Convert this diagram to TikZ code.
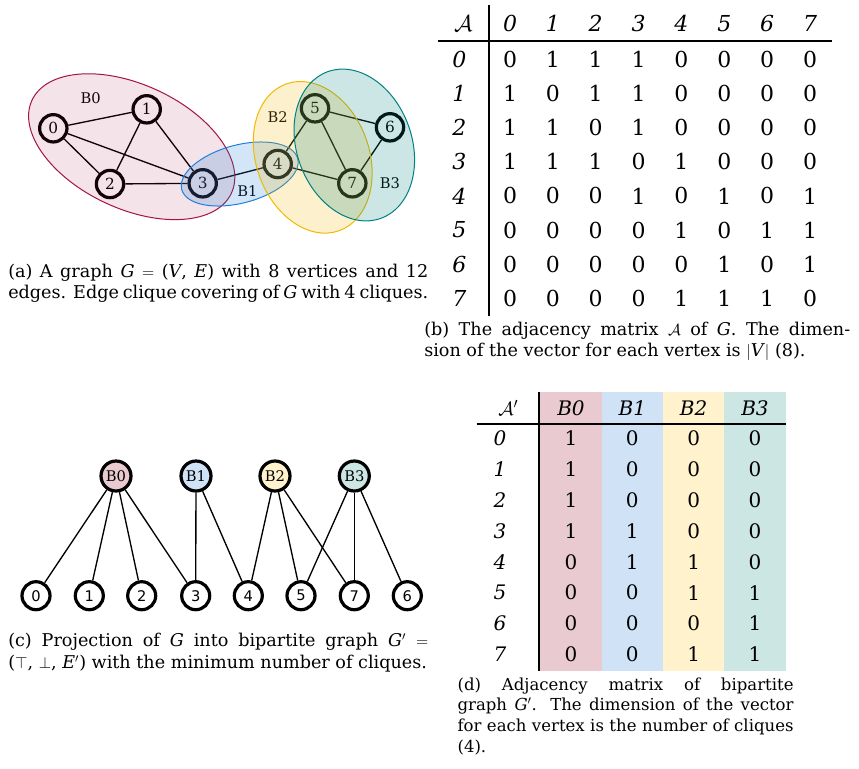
\documentclass[tikz,border=0pt]{standalone}
\usepackage{fontspec}
\setmainfont{DejaVu Serif}
\setsansfont{DejaVu Sans}

\definecolor{cBzero}{RGB}{163,21,62}
\definecolor{cBone}{RGB}{30,128,220}
\definecolor{cBtwo}{RGB}{240,185,0}
\definecolor{cBthree}{RGB}{0,128,128}
\definecolor{lBzero}{RGB}{232,202,208}
\definecolor{lBone}{RGB}{207,226,246}
\definecolor{lBtwo}{RGB}{255,242,204}
\definecolor{lBthree}{RGB}{204,230,228}

\newcommand{\mv}[1]{\textit{#1}}

\tikzset{
  vtx/.style={circle,draw,line width=2.4pt,minimum size=20.5pt,inner sep=0pt,font=\fontsize{11.5}{12}\selectfont},
  topvtx/.style={circle,draw,line width=2.4pt,minimum size=22.5pt,inner sep=0pt,font=\fontsize{11}{12}\selectfont},
  botvtx/.style={circle,draw,line width=2.4pt,minimum size=21pt,inner sep=0pt,font=\sffamily\fontsize{11}{12}\selectfont},
  edge/.style={line width=1pt},
  clqlbl/.style={inner sep=0pt,font=\fontsize{11}{12}\selectfont},
  clique/.style={line width=0.75pt,fill opacity=0.2},
  cellb/.style={inner sep=0pt,font=\fontsize{16.5}{18}\selectfont},
  hdrb/.style={inner sep=0pt,font=\fontsize{16.5}{18}\selectfont\itshape},
  celld/.style={inner sep=0pt,font=\fontsize{15}{16}\selectfont},
  hdrd/.style={inner sep=0pt,font=\fontsize{15}{16}\selectfont\itshape},
  rule/.style={line width=1.3pt},
  capt/.style={inner sep=0pt,anchor=base west,align=justify,font=\fontsize{13.2}{16.2}\selectfont}
}

\begin{document}
\begin{tikzpicture}[x=0.75pt,y=0.75pt,yscale=-1,xscale=1]
\useasboundingbox (0,0) rectangle (859,768);

% Graph G
\node[vtx] (v0) at (53.3,128.3) {0};
\node[vtx] (v1) at (146.7,109.3) {1};
\node[vtx] (v2) at (110,184) {2};
\node[vtx] (v3) at (202.7,183.3) {3};
\node[vtx] (v4) at (277.7,164) {4};
\node[vtx] (v5) at (315,108.3) {5};
\node[vtx] (v6) at (390,127.3) {6};
\node[vtx] (v7) at (352.3,183.3) {7};
%Straight Lines
\draw[edge] (v0) -- (v1);
\draw[edge] (v0) -- (v2);
\draw[edge] (v0) -- (v3);
\draw[edge] (v1) -- (v2);
\draw[edge] (v1) -- (v3);
\draw[edge] (v2) -- (v3);
\draw[edge] (v3) -- (v4);
\draw[edge] (v4) -- (v5);
\draw[edge] (v4) -- (v7);
\draw[edge] (v5) -- (v6);
\draw[edge] (v5) -- (v7);
\draw[edge] (v6) -- (v7);
% Text Node
\node[clqlbl] (gB0) at (90.7,97.7) {B0};
\node[clqlbl] (gB1) at (247.3,190.7) {B1};
\node[clqlbl] (gB2) at (277.7,116.7) {B2};
\node[clqlbl] (gB3) at (390,183.3) {B3};
%Shape: Ellipse
\draw[clique,draw=cBzero,fill=cBzero,fill opacity=0.12,rotate around={25:(131.7,146.7)}] (131.7,146.7) ellipse [x radius=110,y radius=62];
\draw[clique,draw=cBone,fill=cBone,rotate around={-15:(239.7,174)}] (239.7,174) ellipse [x radius=60,y radius=29];
\draw[clique,draw=cBtwo,fill=cBtwo,rotate around={70:(312.7,157.3)}] (312.7,157.3) ellipse [x radius=78,y radius=56.5];
\draw[clique,draw=cBthree,fill=cBthree,rotate around={70:(354.3,145)}] (354.3,145) ellipse [x radius=78,y radius=57.5];

% Text Node
\node[capt,text width=315pt] (capa) at (8,277.3) {(a) A graph \mv{G} $=$ (\mv{V}, \mv{E}) with 8 vertices and 12\linebreak edges. Edge clique covering of \mv{G} with 4 cliques.};

% Adjacency matrix A
\draw[rule] (489.3,5) -- (489.3,316);
\draw[rule] (438.3,40.7) -- (832.3,40.7);
\node[cellb] (hA) at (463.3,23.3) {$\mathcal{A}$};
\foreach \c in {0,...,7}
  \node[hdrb] (hc\c) at ({510+42.86*\c},23.3) {\c};
\foreach \row [count=\r from 0] in {{0,1,1,1,0,0,0,0},{1,0,1,1,0,0,0,0},{1,1,0,1,0,0,0,0},{1,1,1,0,1,0,0,0},{0,0,0,1,0,1,0,1},{0,0,0,0,1,0,1,1},{0,0,0,0,0,1,0,1},{0,0,0,0,1,1,1,0}} {
  \node[hdrb] (hr\r) at (459.3,{59.3+34.14*\r}) {\r};
  \foreach \v [count=\c from 0] in \row
    \node[cellb] (a\r\c) at ({510+42.86*\c},{59.3+34.14*\r}) {\v};
}
% Text Node
\node[capt,text width=319.5pt] (capb) at (424,335) {(b) The adjacency matrix $\mathcal{A}$ of \mv{G}. The dimen-\linebreak sion of the vector for each vertex is $|$\mv{V}$|$ (8).};

% Bipartite graph G'
\node[topvtx,fill=lBzero] (t0) at (116,476) {B0};
\node[topvtx,fill=lBone] (t1) at (196,476) {B1};
\node[topvtx,fill=lBtwo] (t2) at (275,476) {B2};
\node[topvtx,fill=lBthree] (t3) at (354.3,476) {B3};
\node[botvtx] (u0) at (36,595.7) {0};
\node[botvtx] (u1) at (89.3,595.7) {1};
\node[botvtx] (u2) at (141.7,595.7) {2};
\node[botvtx] (u3) at (195.7,595.7) {3};
\node[botvtx] (u4) at (248.3,595.7) {4};
\node[botvtx] (u5) at (301,595.7) {5};
\node[botvtx] (u7) at (354.3,595.7) {7};
\node[botvtx] (u6) at (407.3,595.7) {6};
%Straight Lines
\draw[edge] (t0) -- (u0);
\draw[edge] (t0) -- (u1);
\draw[edge] (t0) -- (u2);
\draw[edge] (t0) -- (u3);
\draw[edge] (t1) -- (u3);
\draw[edge] (t1) -- (u4);
\draw[edge] (t2) -- (u4);
\draw[edge] (t2) -- (u5);
\draw[edge] (t2) -- (u7);
\draw[edge] (t3) -- (u5);
\draw[edge] (t3) -- (u7);
\draw[edge] (t3) -- (u6);
% Text Node
\node[capt,text width=315pt] (capc) at (8,646.7) {(c) Projection of \mv{G} into bipartite graph \mv{G}$'$ $=$\linebreak ($\top$, $\bot$, \mv{E}$'$) with the minimum number of cliques.};

% Adjacency matrix A'
\fill[lBzero] (540,392.3) rectangle (601.7,671);
\fill[lBone] (601.7,392.3) rectangle (662.7,671);
\fill[lBtwo] (662.7,392.3) rectangle (724,671);
\fill[lBthree] (724,392.3) rectangle (786,671);
\draw[rule] (539.3,392.3) -- (539.3,671);
\draw[rule] (476.7,424) -- (786,424);
\node[celld] (hAp) at (508.3,408.3) {$\mathcal{A}'$};
\foreach \c in {0,...,3}
  \node[hdrd] (hd\c) at ({571+61.33*\c},408.3) {B\c};
\foreach \row [count=\r from 0] in {{1,0,0,0},{1,0,0,0},{1,0,0,0},{1,1,0,0},{0,1,1,0},{0,0,1,1},{0,0,0,1},{0,0,1,1}} {
  \node[hdrd] (hq\r) at (500,{438.3+30.86*\r}) {\r};
  \foreach \v [count=\c from 0] in \row
    \node[celld] (d\r\c) at ({571+61.33*\c},{438.3+30.86*\r}) {\v};
}
% Text Node
\node[capt,text width=252pt,font=\fontsize{12.4}{15.5}\selectfont] (capd) at (457.3,690) {(d) Adjacency matrix of bipartite\linebreak graph \mv{G}$'$. The dimension of the vector\linebreak for each vertex is the number of cliques\linebreak (4).};
\end{tikzpicture}
\end{document}
